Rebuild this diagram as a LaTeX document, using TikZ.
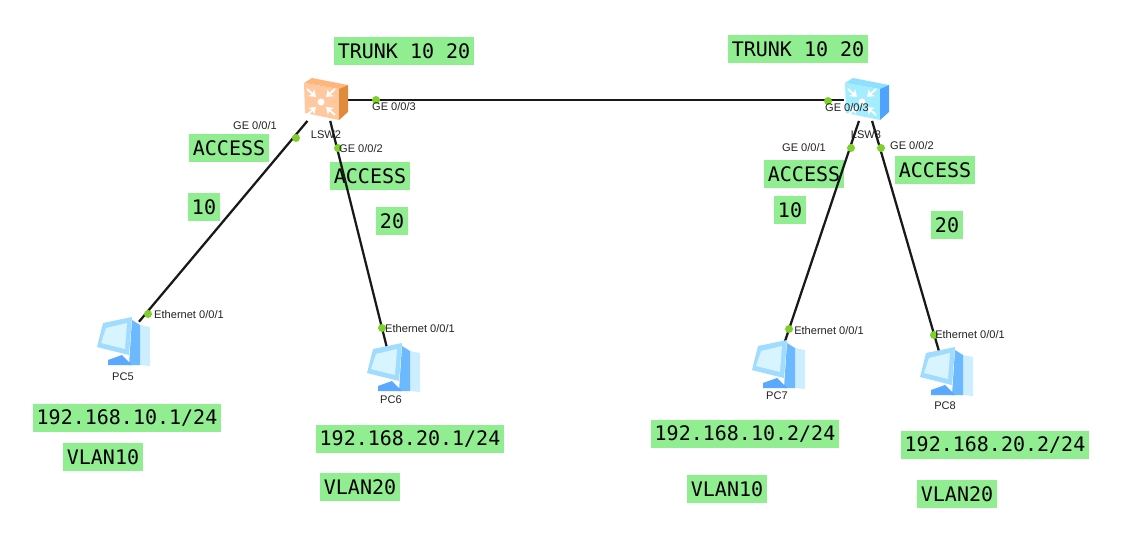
\documentclass[tikz,border=0pt]{standalone}
\usepackage{fontspec}
\setmainfont{Liberation Sans}
\newfontfamily\labelmono{DejaVu Sans Mono}
\usetikzlibrary{arrows.meta, positioning}
\definecolor{labelgreen}{HTML}{90EE90}
\definecolor{portgreen}{HTML}{7ED02C}
\definecolor{textgray}{HTML}{222222}
\definecolor{orangefront}{HTML}{FFC89E}
\definecolor{orangetop}{HTML}{FFB57E}
\definecolor{orangeside}{HTML}{E08A3C}
\definecolor{bluefront}{HTML}{A4EDFF}
\definecolor{bluetop}{HTML}{8FE0FF}
\definecolor{blueside}{HTML}{4FA3FF}
\definecolor{pcmonitor}{HTML}{9FDCFF}
\definecolor{pcscreen}{HTML}{D8F4FF}
\definecolor{pcpanel}{HTML}{6DB9FF}
\definecolor{pccase}{HTML}{CDEEFF}
\definecolor{pcbase}{HTML}{5AA8FF}

\tikzset{
  pics/switchicon/.style n args={3}{code={
    \fill[#2] (-21,-17) -- (-13,-22) -- (23,-15) -- (14,-11) -- cycle;
    \fill[#1] (-21,-17) -- (14,-11) -- (14,20) -- (-20,13) -- cycle;
    \fill[#3] (14,-11) -- (23,-15) -- (23,12) -- (14,20) -- cycle;
    \foreach \dx/\dy in {-1/-1, 1/-1, -1/1, 1/1} {
      \draw[white, line width=1.4pt, -{Stealth[length=5pt,width=7pt]}]
        ({-4+\dx*14},{2+\dy*13}) -- ({-4+\dx*5},{2+\dy*5});
    }
    \fill[white] (-4,2) circle (3.5);
  }},
  pics/pcicon/.style={code={
    \fill[pccase] (18,-17) -- (28,-15) -- (28,24) -- (18,23) -- cycle;
    \fill[pcpanel] (10,-22) -- (18,-17) -- (18,23) -- (7,23) -- cycle;
    \fill[pcbase] (-14,18) -- (0,13) -- (10,23) -- (-14,23) -- cycle;
    \fill[pcmonitor] (-19,-19) -- (10,-25) -- (7,13) -- (-25,5) -- cycle;
    \fill[pcscreen] (-16,-14) -- (5,-19) -- (3,7) -- (-21,1) -- cycle;
  }}
}

\begin{document}
\begin{tikzpicture}[
    x=0.75pt, y=-0.75pt,
    tag/.style={fill=labelgreen, text=black, font=\labelmono\fontsize{15}{15}\selectfont, inner xsep=3pt, inner ysep=0pt, minimum height=21pt},
    port/.style={circle, fill=portgreen, inner sep=0pt, minimum size=6pt},
    small/.style={text=textgray, font=\fontsize{8.3}{8.3}\selectfont, inner sep=0pt},
    dev/.style={inner sep=0pt, minimum width=33pt, minimum height=31pt},
    host/.style={inner sep=0pt, minimum width=39pt, minimum height=30pt},
    link/.style={line width=1.7pt, black!90}
  ]
  \useasboundingbox (0,0) rectangle (1123,557);

  % green tags
  \node[tag] (trunkl) at (404,51) {TRUNK 10 20};
  \node[tag] (trunkr) at (798,49) {TRUNK 10 20};
  \node[tag] (accessa) at (229,148) {ACCESS};
  \node[tag] (accessb) at (370,176) {ACCESS};
  \node[tag] (accessc) at (804,174) {ACCESS};
  \node[tag] (accessd) at (935,170) {ACCESS};
  \node[tag] (vida) at (204,207) {10};
  \node[tag] (vidb) at (392,221) {20};
  \node[tag] (vidc) at (790,210) {10};
  \node[tag] (vidd) at (947,225) {20};
  \node[tag] (ipa) at (127,418) {192.168.10.1/24};
  \node[tag] (ipb) at (410,439) {192.168.20.1/24};
  \node[tag] (ipc) at (745,434) {192.168.10.2/24};
  \node[tag] (ipd) at (995,445) {192.168.20.2/24};
  \node[tag] (vlana) at (103,457) {VLAN10};
  \node[tag] (vlanb) at (360,487) {VLAN20};
  \node[tag] (vlanc) at (727,489) {VLAN10};
  \node[tag] (vland) at (957,494) {VLAN20};

  % devices
  \node[dev] (lsw2) at (325,100) {};
  \node[dev] (lsw3) at (866,100) {};
  \node[host] (pc5) at (122,342) {};
  \node[host] (pc6) at (392,368) {};
  \node[host] (pc7) at (777,365) {};
  \node[host] (pc8) at (945,372) {};

  \draw[link] (lsw2) -- (lsw3);
  \draw[link] (lsw2) -- (pc5);
  \draw[link] (lsw2) -- (pc6);
  \draw[link] (lsw3) -- (pc7);
  \draw[link] (lsw3) -- (pc8);

  \pic at (325,100) {switchicon={orangefront}{orangetop}{orangeside}};
  \pic at (866,100) {switchicon={bluefront}{bluetop}{blueside}};
  \foreach \px/\py in {122/342, 392/368, 777/365, 945/372} {
    \pic at (\px,\py) {pcicon};
  }

  % ports
  \node[port] (pa) at (296,138) {};
  \node[port] (pb) at (338,148) {};
  \node[port] (pc) at (376,100) {};
  \node[port] (pd) at (828,101) {};
  \node[port] (pe) at (851,148) {};
  \node[port] (pf) at (881,148) {};
  \node[port] (pg) at (148,314) {};
  \node[port] (ph) at (382,328) {};
  \node[port] (pi) at (789,329) {};
  \node[port] (pj) at (934,335) {};

  % device and port names
  \node[small] (nlsw2) at (326,135) {LSW2};
  \node[small] (nlsw3) at (866,135) {LSW3};
  \node[small] (npc5) at (123,377) {PC5};
  \node[small] (npc6) at (391,400) {PC6};
  \node[small] (npc7) at (777,396) {PC7};
  \node[small] (npc8) at (945,406) {PC8};
  \node[small] (ga) at (255,126) {GE 0/0/1};
  \node[small] (gb) at (361,149) {GE 0/0/2};
  \node[small] (gc) at (394,107) {GE 0/0/3};
  \node[small] (gd) at (847,108) {GE 0/0/3};
  \node[small] (ge) at (804,148) {GE 0/0/1};
  \node[small] (gf) at (912,146) {GE 0/0/2};
  \node[small] (ea) at (189,315) {Ethernet 0/0/1};
  \node[small] (eb) at (420,329) {Ethernet 0/0/1};
  \node[small] (ec) at (829,331) {Ethernet 0/0/1};
  \node[small] (ed) at (970,335) {Ethernet 0/0/1};
\end{tikzpicture}
\end{document}
